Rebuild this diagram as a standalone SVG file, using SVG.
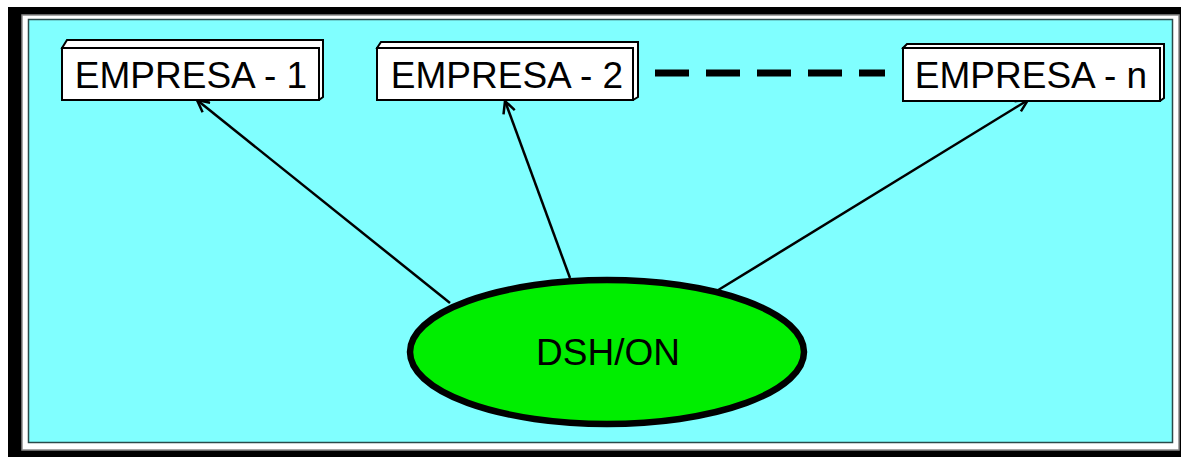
<svg xmlns="http://www.w3.org/2000/svg" width="1181" height="457" viewBox="0 0 1181 457">
  <defs>
    <style>
      .box-front { fill: #ffffff; stroke: #000000; stroke-width: 2; }
      .box-back { fill: #ffffff; stroke: #000000; stroke-width: 2; }
      .label { font-family: "Liberation Sans", Arial, sans-serif; font-size: 37px; fill: #000000; text-anchor: middle; }
      .conn { stroke: #000000; stroke-width: 2.5; fill: none; }
    </style>
    <marker id="arrow" viewBox="0 0 14 14" refX="13" refY="7" markerWidth="14" markerHeight="14" markerUnits="userSpaceOnUse" orient="auto">
      <path d="M1,1 L13,7 L1,13" fill="none" stroke="#000000" stroke-width="2.5"/>
    </marker>
  </defs>

  <rect x="0" y="0" width="1181" height="457" fill="#ffffff"/>
  <!-- frame -->
  <rect x="8" y="7" width="1173" height="450" fill="#000000"/>
  <rect x="22" y="15" width="1157" height="435" fill="#ffffff" stroke="#8a8a8a" stroke-width="1.5"/>
  <rect x="28.5" y="19.5" width="1144" height="423" fill="#80ffff" stroke="#2a4a4a" stroke-width="1.5"/>

  <g id="connectors">
    <line class="conn" x1="450" y1="303" x2="197" y2="100" marker-end="url(#arrow)"/>
    <line class="conn" x1="570" y1="278" x2="505" y2="101" marker-end="url(#arrow)"/>
    <line class="conn" x1="715" y1="292" x2="1028" y2="100" marker-end="url(#arrow)"/>
    <line x1="655" y1="73" x2="885" y2="73" stroke="#000000" stroke-width="7" stroke-dasharray="34 17"/>
  </g>

  <g id="empresa-1">
    <path class="box-back" d="M62,48 L67,40 L323,40 L323,97 L319,100 Z"/>
    <rect class="box-front" x="62" y="48" width="257" height="52"/>
    <text class="label" x="191" y="88">EMPRESA - 1</text>
  </g>

  <g id="empresa-2">
    <path class="box-back" d="M377,48 L381,42 L638,42 L638,97 L633,100 Z"/>
    <rect class="box-front" x="377" y="48" width="256" height="52"/>
    <text class="label" x="507" y="88">EMPRESA - 2</text>
  </g>

  <g id="empresa-n">
    <path class="box-back" d="M903,48 L907,44 L1164,44 L1164,98 L1160,101 Z"/>
    <rect class="box-front" x="903" y="48" width="257" height="53"/>
    <text class="label" x="1031" y="88">EMPRESA - n</text>
  </g>

  <g id="dsh-on">
    <ellipse cx="607" cy="352" rx="197" ry="72" fill="#00ee00" stroke="#000000" stroke-width="6.5"/>
    <text class="label" x="608" y="365">DSH/ON</text>
  </g>
</svg>
